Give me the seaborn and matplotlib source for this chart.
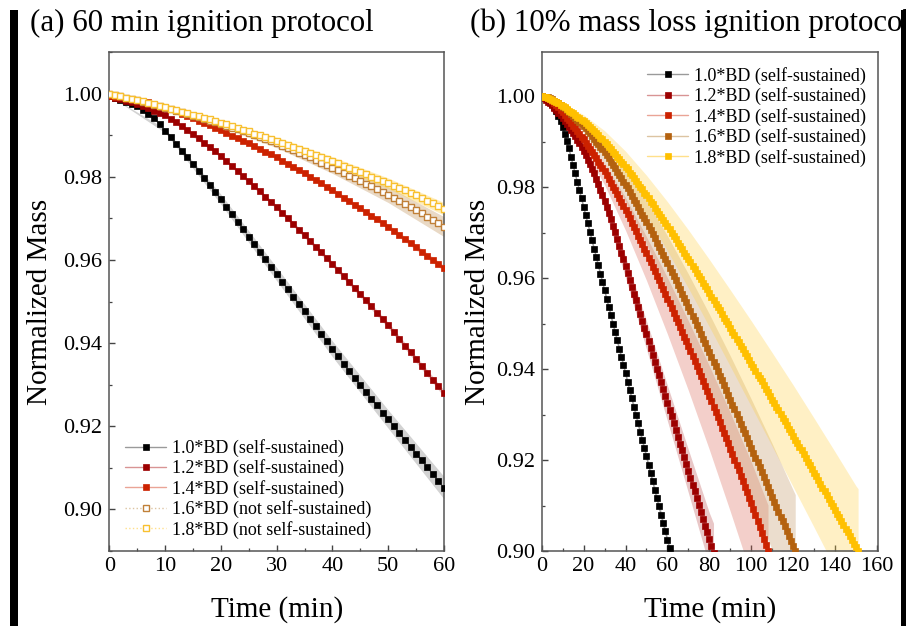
import numpy as np
import matplotlib
matplotlib.use("Agg")
import matplotlib.pyplot as plt
from matplotlib.patches import Rectangle
from matplotlib.ticker import MultipleLocator, FormatStrFormatter
import seaborn as sns

# ---------------- data: panel (a) 60 min ignition protocol (1 value per minute) ----------------
MASS_A_10 = [0.9995, 0.9990, 0.9985, 0.9980, 0.9975, 0.9969, 0.9961, 0.9952, 0.9941, 0.9927,
             0.9911, 0.9895, 0.9879, 0.9863, 0.9847, 0.9831, 0.9815, 0.9798, 0.9781, 0.9764,
             0.9746, 0.9728, 0.9710, 0.9692, 0.9674, 0.9656, 0.9638, 0.9620, 0.9602, 0.9584,
             0.9566, 0.9548, 0.9530, 0.9512, 0.9494, 0.9476, 0.9458, 0.9440, 0.9422, 0.9404,
             0.9386, 0.9368, 0.9350, 0.9332, 0.9316, 0.9299, 0.9283, 0.9266, 0.9250, 0.9233,
             0.9217, 0.9200, 0.9184, 0.9167, 0.9151, 0.9134, 0.9118, 0.9101, 0.9085, 0.9068,
             0.9052]
MASS_A_12 = [0.9994, 0.9990, 0.9986, 0.9983, 0.9979, 0.9975, 0.9970, 0.9965, 0.9959, 0.9954,
             0.9948, 0.9940, 0.9931, 0.9922, 0.9912, 0.9903, 0.9893, 0.9882, 0.9872, 0.9861,
             0.9850, 0.9838, 0.9826, 0.9814, 0.9802, 0.9790, 0.9778, 0.9765, 0.9752, 0.9740,
             0.9727, 0.9714, 0.9700, 0.9687, 0.9673, 0.9660, 0.9646, 0.9632, 0.9618, 0.9604,
             0.9590, 0.9576, 0.9561, 0.9547, 0.9532, 0.9518, 0.9503, 0.9488, 0.9473, 0.9458,
             0.9443, 0.9427, 0.9411, 0.9394, 0.9378, 0.9362, 0.9345, 0.9329, 0.9312, 0.9296,
             0.9279]
MASS_A_14 = [0.9994, 0.9992, 0.9991, 0.9989, 0.9987, 0.9985, 0.9982, 0.9979, 0.9975, 0.9971,
             0.9967, 0.9962, 0.9957, 0.9951, 0.9946, 0.9941, 0.9935, 0.9929, 0.9924, 0.9918,
             0.9912, 0.9906, 0.9899, 0.9893, 0.9886, 0.9880, 0.9873, 0.9867, 0.9860, 0.9854,
             0.9847, 0.9839, 0.9831, 0.9824, 0.9816, 0.9808, 0.9800, 0.9792, 0.9784, 0.9776,
             0.9768, 0.9759, 0.9750, 0.9742, 0.9733, 0.9724, 0.9715, 0.9706, 0.9698, 0.9689,
             0.9680, 0.9670, 0.9660, 0.9650, 0.9640, 0.9630, 0.9620, 0.9610, 0.9600, 0.9590,
             0.9580]
MASS_A_16 = [1.0000, 0.9997, 0.9994, 0.9990, 0.9987, 0.9984, 0.9980, 0.9977, 0.9973, 0.9970,
             0.9966, 0.9962, 0.9958, 0.9955, 0.9951, 0.9947, 0.9943, 0.9939, 0.9935, 0.9931,
             0.9927, 0.9923, 0.9918, 0.9914, 0.9909, 0.9905, 0.9900, 0.9895, 0.9890, 0.9885,
             0.9880, 0.9875, 0.9869, 0.9864, 0.9858, 0.9853, 0.9847, 0.9841, 0.9834, 0.9828,
             0.9822, 0.9816, 0.9809, 0.9803, 0.9796, 0.9790, 0.9783, 0.9777, 0.9770, 0.9764,
             0.9757, 0.9750, 0.9742, 0.9735, 0.9727, 0.9720, 0.9712, 0.9704, 0.9696, 0.9688,
             0.9680]
MASS_A_18 = [1.0000, 0.9997, 0.9994, 0.9990, 0.9987, 0.9984, 0.9981, 0.9977, 0.9974, 0.9970,
             0.9967, 0.9963, 0.9960, 0.9956, 0.9953, 0.9949, 0.9945, 0.9941, 0.9938, 0.9934,
             0.9930, 0.9926, 0.9922, 0.9917, 0.9913, 0.9909, 0.9904, 0.9900, 0.9895, 0.9891,
             0.9886, 0.9881, 0.9876, 0.9872, 0.9867, 0.9862, 0.9857, 0.9852, 0.9847, 0.9842,
             0.9837, 0.9832, 0.9827, 0.9821, 0.9816, 0.9811, 0.9806, 0.9800, 0.9795, 0.9789,
             0.9784, 0.9778, 0.9772, 0.9767, 0.9761, 0.9755, 0.9749, 0.9742, 0.9736, 0.9729,
             0.9723]

# spread (std) of panel (a), read at these minutes
BAND_T_A = [0, 10, 20, 30, 40, 50, 60]
SD_A_10 = [0.0, 0.0005, 0.0012, 0.0016, 0.0019, 0.0022, 0.0027]
SD_A_12 = [0.0, 0.0002, 0.0004, 0.0005, 0.0006, 0.0007, 0.0008]
SD_A_14 = [0.0, 0.0002, 0.0003, 0.0004, 0.0005, 0.0006, 0.0007]
SD_A_16 = [0.0, 0.0003, 0.0006, 0.0010, 0.0014, 0.0019, 0.0024]
SD_A_18 = [0.0, 0.0003, 0.0006, 0.0009, 0.0011, 0.0013, 0.0015]

# ---------------- data: panel (b) 10 % mass loss ignition protocol ----------------
MASS_B_10 = [1.0000, 0.9999, 0.9997, 0.9994, 0.9989, 0.9983, 0.9975, 0.9967, 0.9956, 0.9945,
             0.9932, 0.9917, 0.9902, 0.9885, 0.9866, 0.9848, 0.9830, 0.9811, 0.9793, 0.9775,
             0.9757, 0.9738, 0.9720, 0.9702, 0.9683, 0.9665, 0.9647, 0.9628, 0.9610, 0.9592,
             0.9573, 0.9555, 0.9537, 0.9519, 0.9500, 0.9482, 0.9464, 0.9445, 0.9427, 0.9409,
             0.9391, 0.9372, 0.9354, 0.9336, 0.9317, 0.9299, 0.9281, 0.9262, 0.9244, 0.9226,
             0.9208, 0.9189, 0.9171, 0.9153, 0.9134, 0.9116, 0.9098, 0.9079, 0.9061, 0.9043,
             0.9025, 0.9006, 0.8988]
MASS_B_12 = [1.0000, 0.9996, 0.9992, 0.9988, 0.9984, 0.9980, 0.9974, 0.9969, 0.9963, 0.9958,
             0.9952, 0.9946, 0.9939, 0.9933, 0.9926, 0.9920, 0.9912, 0.9904, 0.9896, 0.9888,
             0.9880, 0.9870, 0.9860, 0.9850, 0.9840, 0.9830, 0.9818, 0.9806, 0.9794, 0.9782,
             0.9770, 0.9756, 0.9742, 0.9729, 0.9715, 0.9701, 0.9686, 0.9671, 0.9656, 0.9641,
             0.9626, 0.9611, 0.9596, 0.9581, 0.9566, 0.9551, 0.9536, 0.9521, 0.9506, 0.9491,
             0.9476, 0.9461, 0.9446, 0.9431, 0.9416, 0.9401, 0.9386, 0.9371, 0.9356, 0.9341,
             0.9326, 0.9311, 0.9296, 0.9281, 0.9266, 0.9251, 0.9236, 0.9221, 0.9206, 0.9191,
             0.9176, 0.9161, 0.9146, 0.9131, 0.9116, 0.9101, 0.9086, 0.9071, 0.9056, 0.9041,
             0.9026, 0.9011, 0.8996]
MASS_B_14 = [1.0000, 0.9999, 0.9998, 0.9996, 0.9993, 0.9989, 0.9985, 0.9980, 0.9975, 0.9970,
             0.9965, 0.9959, 0.9953, 0.9947, 0.9941, 0.9935, 0.9929, 0.9923, 0.9917, 0.9911,
             0.9905, 0.9898, 0.9891, 0.9884, 0.9877, 0.9870, 0.9863, 0.9856, 0.9849, 0.9842,
             0.9835, 0.9827, 0.9818, 0.9810, 0.9801, 0.9793, 0.9784, 0.9776, 0.9767, 0.9759,
             0.9750, 0.9741, 0.9731, 0.9722, 0.9712, 0.9703, 0.9693, 0.9684, 0.9674, 0.9665,
             0.9655, 0.9645, 0.9635, 0.9625, 0.9615, 0.9605, 0.9595, 0.9585, 0.9575, 0.9565,
             0.9555, 0.9545, 0.9534, 0.9524, 0.9513, 0.9503, 0.9492, 0.9482, 0.9471, 0.9461,
             0.9450, 0.9439, 0.9428, 0.9417, 0.9406, 0.9395, 0.9384, 0.9373, 0.9362, 0.9351,
             0.9340, 0.9329, 0.9317, 0.9306, 0.9294, 0.9283, 0.9271, 0.9260, 0.9248, 0.9237,
             0.9225, 0.9213, 0.9201, 0.9189, 0.9177, 0.9165, 0.9153, 0.9141, 0.9129, 0.9117,
             0.9105, 0.9092, 0.9079, 0.9066, 0.9053, 0.9040, 0.9027, 0.9014, 0.9001]
MASS_B_16 = [1.0000, 0.9999, 0.9998, 0.9997, 0.9995, 0.9993, 0.9990, 0.9987, 0.9984, 0.9981,
             0.9977, 0.9973, 0.9969, 0.9964, 0.9960, 0.9956, 0.9952, 0.9948, 0.9943, 0.9939,
             0.9935, 0.9929, 0.9923, 0.9918, 0.9912, 0.9906, 0.9900, 0.9894, 0.9889, 0.9883,
             0.9877, 0.9870, 0.9863, 0.9855, 0.9848, 0.9841, 0.9834, 0.9827, 0.9819, 0.9812,
             0.9805, 0.9797, 0.9789, 0.9780, 0.9772, 0.9764, 0.9756, 0.9748, 0.9739, 0.9731,
             0.9723, 0.9714, 0.9705, 0.9696, 0.9687, 0.9678, 0.9669, 0.9660, 0.9651, 0.9642,
             0.9633, 0.9623, 0.9614, 0.9604, 0.9595, 0.9585, 0.9575, 0.9566, 0.9556, 0.9547,
             0.9537, 0.9527, 0.9517, 0.9507, 0.9497, 0.9487, 0.9477, 0.9467, 0.9457, 0.9447,
             0.9437, 0.9427, 0.9416, 0.9406, 0.9395, 0.9385, 0.9375, 0.9364, 0.9354, 0.9343,
             0.9333, 0.9322, 0.9312, 0.9301, 0.9291, 0.9280, 0.9269, 0.9259, 0.9248, 0.9238,
             0.9227, 0.9216, 0.9205, 0.9195, 0.9184, 0.9173, 0.9162, 0.9151, 0.9141, 0.9130,
             0.9119, 0.9108, 0.9097, 0.9086, 0.9075, 0.9065, 0.9054, 0.9043, 0.9032, 0.9021,
             0.9010, 0.8999]
MASS_B_18 = [1.0000, 0.9999, 0.9998, 0.9996, 0.9994, 0.9992, 0.9990, 0.9987, 0.9984, 0.9981,
             0.9978, 0.9975, 0.9971, 0.9968, 0.9965, 0.9962, 0.9958, 0.9955, 0.9951, 0.9948,
             0.9945, 0.9941, 0.9936, 0.9932, 0.9927, 0.9923, 0.9918, 0.9914, 0.9909, 0.9905,
             0.9900, 0.9895, 0.9889, 0.9884, 0.9878, 0.9873, 0.9867, 0.9862, 0.9856, 0.9851,
             0.9845, 0.9839, 0.9832, 0.9826, 0.9820, 0.9814, 0.9807, 0.9801, 0.9795, 0.9788,
             0.9782, 0.9775, 0.9768, 0.9762, 0.9755, 0.9748, 0.9741, 0.9734, 0.9728, 0.9721,
             0.9714, 0.9707, 0.9700, 0.9692, 0.9685, 0.9678, 0.9671, 0.9664, 0.9656, 0.9649,
             0.9642, 0.9635, 0.9627, 0.9620, 0.9612, 0.9605, 0.9597, 0.9590, 0.9582, 0.9575,
             0.9567, 0.9559, 0.9552, 0.9544, 0.9536, 0.9529, 0.9521, 0.9513, 0.9505, 0.9498,
             0.9490, 0.9482, 0.9474, 0.9467, 0.9459, 0.9451, 0.9443, 0.9435, 0.9428, 0.9420,
             0.9412, 0.9404, 0.9396, 0.9388, 0.9380, 0.9373, 0.9365, 0.9357, 0.9349, 0.9341,
             0.9333, 0.9325, 0.9317, 0.9309, 0.9301, 0.9293, 0.9285, 0.9277, 0.9269, 0.9261,
             0.9253, 0.9245, 0.9237, 0.9229, 0.9221, 0.9213, 0.9204, 0.9196, 0.9188, 0.9180,
             0.9172, 0.9164, 0.9156, 0.9147, 0.9139, 0.9131, 0.9123, 0.9115, 0.9106, 0.9098,
             0.9090, 0.9082, 0.9074, 0.9065, 0.9057, 0.9049, 0.9041, 0.9033, 0.9024, 0.9016,
             0.9008, 0.9000]

# spread of panel (b): minutes at which it was read, lower and upper widths
BAND_T_B_10 = [0, 10, 20, 30, 40, 50, 60, 62]
SD_B_10 = [0.0, 0.0003, 0.0005, 0.0007, 0.0008, 0.0009, 0.0010, 0.0010]
BAND_T_B_12 = [0, 10, 20, 30, 40, 50, 60, 70, 80, 82]
SD_LO_B_12 = [0.0, 0.0005, 0.0010, 0.0018, 0.0025, 0.0032, 0.0040, 0.0048, 0.0058, 0.0062]
SD_HI_B_12 = [0.0, 0.0004, 0.0009, 0.0015, 0.0022, 0.0030, 0.0038, 0.0047, 0.0058, 0.0065]
BAND_T_B_14 = [0, 10, 20, 30, 40, 50, 60, 70, 80, 90, 100, 108]
SD_LO_B_14 = [0.0, 0.0008, 0.0018, 0.0030, 0.0045, 0.0060, 0.0078, 0.0097, 0.0117, 0.0138, 0.0158, 0.0172]
SD_HI_B_14 = [0.0, 0.0005, 0.0010, 0.0018, 0.0027, 0.0036, 0.0046, 0.0056, 0.0067, 0.0079, 0.0091, 0.0100]
BAND_T_B_16 = [0, 10, 20, 30, 40, 50, 60, 70, 80, 90, 100, 110, 120, 121]
SD_B_16 = [0.0, 0.0006, 0.0015, 0.0025, 0.0036, 0.0048, 0.0060, 0.0072, 0.0084, 0.0096, 0.0107, 0.0117, 0.0124, 0.0125]
BAND_T_B_18 = [0, 10, 20, 30, 40, 50, 60, 70, 80, 90, 100, 110, 120, 130, 140, 150, 151]
SD_B_18 = [0.0, 0.0006, 0.0014, 0.0024, 0.0034, 0.0044, 0.0054, 0.0064, 0.0074, 0.0084, 0.0094,
           0.0103, 0.0112, 0.0120, 0.0128, 0.0135, 0.0137]

DENSITIES = ["1.0*BD", "1.2*BD", "1.4*BD", "1.6*BD", "1.8*BD"]
STATUS_A = ["(self-sustained)", "(self-sustained)", "(self-sustained)",
            "(not self-sustained)", "(not self-sustained)"]
STATUS_B = ["(self-sustained)"] * 5

# ---------------- styles ----------------
MARKER_C = ["#000000", "#9c0000", "#cc2200", "#b4620f", "#ffc000"]
LINE_C = ["#9a9a9a", "#d89494", "#eaa496", "#dcc4a2", "#ffe08a"]
BAND_C = ["#808080", "#c06060", "#d86050", "#c8a070", "#ffd040"]
OPEN_EDGE_A = {3: "#c08038", 4: "#f8c030"}

sns.set_theme(style="ticks")
plt.rcParams["font.family"] = ["Liberation Serif", "DejaVu Serif"]
plt.rcParams["text.color"] = "black"
plt.rcParams["axes.labelcolor"] = "black"
plt.rcParams["xtick.color"] = "black"
plt.rcParams["ytick.color"] = "black"
plt.rcParams["legend.numpoints"] = 1

W, H = 906, 626
fig = plt.figure(figsize=(W / 100, H / 100), dpi=100)
fig.patch.set_facecolor("white")


def px_axes(x0, x1, y_top, y_bot):
    return fig.add_axes([x0 / W, 1 - y_bot / H, (x1 - x0) / W, (y_bot - y_top) / H])


ax_a = px_axes(109.3, 444.0, 52.0, 551.0)
ax_b = px_axes(541.7, 878.0, 52.0, 551.0)


def band(ax, series, knots, lo, hi, color, alpha):
    s = np.asarray(series)
    k = np.asarray(knots)
    m = s[k]
    ax.fill_between(k, m - np.asarray(lo), m + np.asarray(hi),
                    color=color, alpha=alpha, lw=0, zorder=1)


MS = 5.0

# panel (a)
series_a = [MASS_A_10, MASS_A_12, MASS_A_14, MASS_A_16, MASS_A_18]
sd_a = [SD_A_10, SD_A_12, SD_A_14, SD_A_16, SD_A_18]
alpha_a = [0.35, 0.35, 0.3, 0.4, 0.35]
for i, (s, sd) in enumerate(zip(series_a, sd_a)):
    band(ax_a, s, BAND_T_A, sd, sd, BAND_C[i], alpha_a[i])
for i, s in enumerate(series_a):
    t = np.arange(len(s))
    if i >= 3:
        sns.lineplot(x=t, y=s, ax=ax_a, color=LINE_C[i], linestyle=":", linewidth=1.0,
                     marker="s", markersize=MS, markerfacecolor="white",
                     markeredgecolor=OPEN_EDGE_A[i], markeredgewidth=1.0,
                     label=f"{DENSITIES[i]} {STATUS_A[i]}", errorbar=None, zorder=3 + i)
    else:
        sns.lineplot(x=t, y=s, ax=ax_a, color=LINE_C[i], linewidth=1.0,
                     marker="s", markersize=MS, markerfacecolor=MARKER_C[i],
                     markeredgecolor=MARKER_C[i], markeredgewidth=0.5,
                     label=f"{DENSITIES[i]} {STATUS_A[i]}", errorbar=None, zorder=3 + i)

# panel (b)
series_b = [MASS_B_10, MASS_B_12, MASS_B_14, MASS_B_16, MASS_B_18]
band(ax_b, MASS_B_10, BAND_T_B_10, SD_B_10, SD_B_10, BAND_C[0], 0.3)
band(ax_b, MASS_B_12, BAND_T_B_12, SD_LO_B_12, SD_HI_B_12, BAND_C[1], 0.35)
band(ax_b, MASS_B_14, BAND_T_B_14, SD_LO_B_14, SD_HI_B_14, BAND_C[2], 0.3)
band(ax_b, MASS_B_16, BAND_T_B_16, SD_B_16, SD_B_16, BAND_C[3], 0.35)
band(ax_b, MASS_B_18, BAND_T_B_18, SD_B_18, SD_B_18, BAND_C[4], 0.3)
for i, s in enumerate(series_b):
    t = np.arange(len(s))
    sns.lineplot(x=t, y=s, ax=ax_b, color=LINE_C[i], linewidth=1.0,
                 marker="s", markersize=MS, markerfacecolor=MARKER_C[i],
                 markeredgecolor=MARKER_C[i], markeredgewidth=0.5,
                 label=f"{DENSITIES[i]} {STATUS_B[i]}", errorbar=None, zorder=3 + i)

# axes formatting
for ax in (ax_a, ax_b):
    ax.set_facecolor("white")
    for sp in ax.spines.values():
        sp.set_color("#555555")
        sp.set_linewidth(1.1)
        sp.set_visible(True)
    ax.tick_params(axis="both", which="major", direction="in", length=4, width=1.0,
                   color="#444444", labelcolor="black", labelsize=16,
                   top=False, right=False)
    ax.tick_params(axis="both", which="minor", direction="in", length=2.3, width=0.9,
                   color="#444444", top=False, right=False)
    ax.tick_params(axis="x", which="major", pad=4)
    ax.tick_params(axis="y", which="major", pad=5)
    ax.yaxis.set_major_locator(MultipleLocator(0.02))
    ax.yaxis.set_minor_locator(MultipleLocator(0.01))
    ax.yaxis.set_major_formatter(FormatStrFormatter("%.2f"))
    ax.set_xlabel("Time (min)", fontsize=21, color="black")
    ax.set_ylabel("Normalized Mass", fontsize=21, color="black")
    ax.xaxis.label.set_va("center")
    ax.yaxis.label.set_va("center")
    ax.grid(False)

ax_a.set_xlim(0, 60)
ax_a.set_ylim(0.89, 1.01)
ax_a.xaxis.set_major_locator(MultipleLocator(10))
ax_a.xaxis.set_minor_locator(MultipleLocator(5))
ax_a.xaxis.set_label_coords(0.5, -0.117)
ax_a.yaxis.set_label_coords(-0.207, 0.5)

ax_b.set_xlim(0, 160.5)
ax_b.set_ylim(0.90, 1.0097)
ax_b.xaxis.set_major_locator(MultipleLocator(20))
ax_b.xaxis.set_minor_locator(MultipleLocator(10))
ax_b.xaxis.set_label_coords(0.5, -0.117)
ax_b.yaxis.set_label_coords(-0.189, 0.5)

leg_kw = dict(frameon=False, fontsize=13, handlelength=2.3, handletextpad=0.3,
              labelspacing=0.14, borderaxespad=0.0, borderpad=0.4, labelcolor="black")
ax_a.legend(loc="lower left", bbox_to_anchor=(0.025, 0.010), **leg_kw)
ax_b.legend(loc="upper right", bbox_to_anchor=(0.985, 0.985), **leg_kw)

# panel titles
fig.text(30 / W, 1 - 23 / H, "(a) 60 min ignition protocol", fontsize=22.3,
         ha="left", va="center", color="black")
fig.text(470 / W, 1 - 23 / H, "(b) 10% mass loss ignition protocol", fontsize=22.3,
         ha="left", va="center", color="black")

# black page edge bars of the original figure
fig.patches.append(Rectangle((10 / W, 0), 8 / W, 1 - 10 / H, transform=fig.transFigure,
                             facecolor="black", edgecolor="none", zorder=10))
fig.patches.append(Rectangle((901 / W, 0), 5 / W, 1 - 10 / H, transform=fig.transFigure,
                             facecolor="black", edgecolor="none", zorder=10))

fig.savefig("out.png", dpi=100, facecolor="white")
